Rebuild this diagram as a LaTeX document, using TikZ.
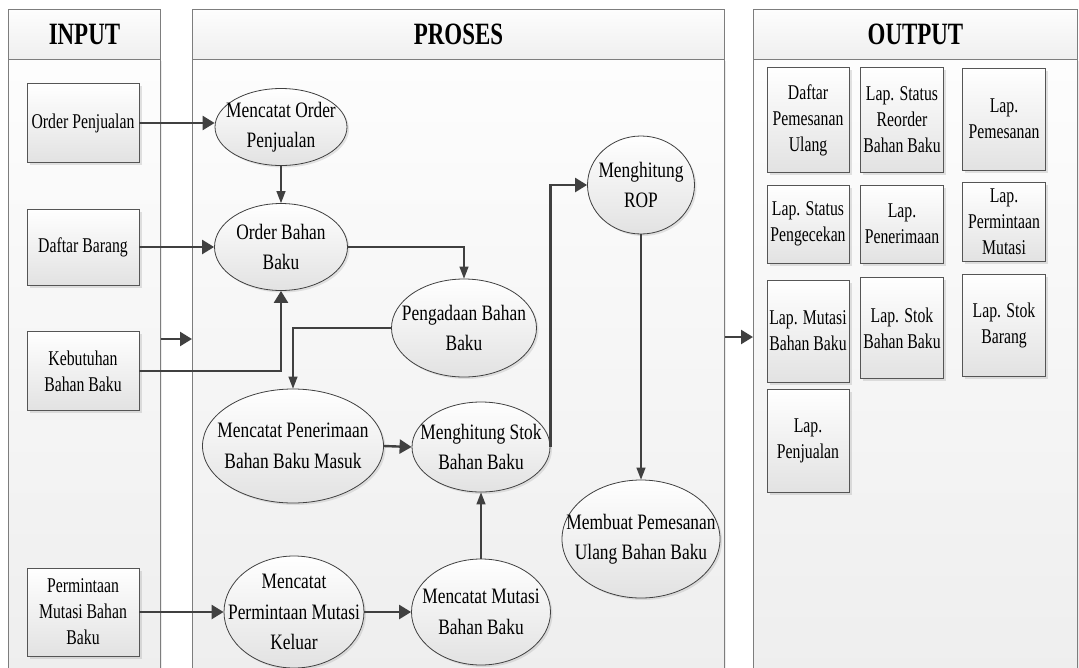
\documentclass[tikz,border=0pt]{standalone}
\usepackage{fontspec}
\setmainfont{Liberation Serif}
\newfontfamily\boxfont[FakeStretch=0.75]{Liberation Serif}
\newfontfamily\procfont[FakeStretch=0.79]{Liberation Serif}
\newfontfamily\headfont[FakeStretch=0.74]{Liberation Serif}
\usetikzlibrary{shapes.geometric,arrows.meta,shadows,calc}
\definecolor{flowline}{RGB}{64,64,64}
\definecolor{boxline}{RGB}{85,85,85}
\definecolor{panelline}{RGB}{125,125,125}
\definecolor{fillTop}{RGB}{255,255,255}
\definecolor{fillBottom}{RGB}{226,226,226}
\definecolor{panelTop}{RGB}{253,253,253}
\definecolor{panelBottom}{RGB}{237,237,237}
\tikzset{
  panelhead/.style={
    rectangle, draw=panelline, line width=0.9pt,
    top color=panelTop, bottom color=panelBottom!90!white,
    minimum height=50, inner sep=0,
    font=\headfont\bfseries\fontsize{31}{33}\selectfont
  },
  panelbody/.style={
    rectangle, draw=panelline, line width=0.9pt,
    top color=panelTop, bottom color=panelBottom,
    minimum height=660, inner sep=0,
    drop shadow={shadow xshift=2pt, shadow yshift=-2pt, opacity=0.15}
  },
  dfdbox/.style={
    rectangle, draw=boxline, line width=0.8pt,
    top color=fillTop, bottom color=fillBottom,
    drop shadow={shadow xshift=2.5pt, shadow yshift=-2.5pt, opacity=0.22},
    inner sep=1pt, align=center,
    font=\boxfont\fontsize{21}{26}\selectfont
  },
  dfdproc/.style={
    ellipse, draw=flowline, line width=0.8pt,
    top color=fillTop, bottom color=fillBottom,
    drop shadow={shadow xshift=2pt, shadow yshift=-2pt, opacity=0.2},
    inner sep=0
  },
  proctext/.style={align=center, inner sep=0, font=\procfont\fontsize{22}{30.5}\selectfont},
  dfdflow/.style={-{Triangle[length=12pt,width=14pt]}, line width=2.4pt, draw=flowline},
  dfdthin/.style={-{Triangle[length=12pt,width=9pt]}, line width=1.2pt, draw=flowline}
}

\begin{document}
\begin{tikzpicture}[x=1pt,y=-1pt]
\clip (0,0) rectangle (1079,667);

% ---- panels ----
\node[panelbody, minimum width=152, anchor=north west] (bdIn) at (8,59) {};
\node[panelhead, minimum width=152, anchor=north west] (hdIn) at (8,9) {INPUT};
\node[panelbody, minimum width=532, anchor=north west] (bdProses) at (192,59) {};
\node[panelhead, minimum width=532, anchor=north west] (hdProses) at (192,9) {PROSES};
\node[panelbody, minimum width=324, anchor=north west] (bdOut) at (753,59) {};
\node[panelhead, minimum width=324, anchor=north west] (hdOut) at (753,9) {OUTPUT};

% ---- input ----
\node[dfdbox, minimum width=112, minimum height=79] (inOrder) at (83,123) {Order Penjualan};
\node[dfdbox, minimum width=112, minimum height=76] (inBarang) at (83,247) {Daftar Barang};
\node[dfdbox, minimum width=112, minimum height=79] (inKebutuhan) at (83,371) {Kebutuhan\\Bahan Baku};
\node[dfdbox, minimum width=112, minimum height=88] (inMutasi) at (83,612) {Permintaan\\Mutasi Bahan\\Baku};

% ---- proses ----
\node[dfdproc, minimum width=132, minimum height=77,
  label={[proctext]center:{Mencatat Order\\Penjualan}}] (pOrder) at (281,127) {};
\node[dfdproc, minimum width=133, minimum height=87,
  label={[proctext]center:{Order Bahan\\Baku}}] (pBahan) at (281,247) {};
\node[dfdproc, minimum width=145, minimum height=98,
  label={[proctext]center:{Pengadaan Bahan\\Baku}}] (pAdaan) at (464,328) {};
\node[dfdproc, minimum width=181, minimum height=114,
  label={[proctext]center:{Mencatat Penerimaan\\Bahan Baku Masuk}}] (pTerima) at (293,446) {};
\node[dfdproc, minimum width=138, minimum height=90,
  label={[proctext]center:{Menghitung Stok\\Bahan Baku}}] (pStok) at (481,447) {};
\node[dfdproc, minimum width=107, minimum height=98,
  label={[proctext]center:{Menghitung\\ROP}}] (pROP) at (641,185) {};
\node[dfdproc, minimum width=158, minimum height=118,
  label={[proctext]center:{Membuat Pemesanan\\Ulang Bahan Baku}}] (pBuat) at (641,539) {};
\node[dfdproc, minimum width=140, minimum height=112,
  label={[proctext]center:{Mencatat\\Permintaan Mutasi\\Keluar}}] (pMintaMutasi) at (294,612) {};
\node[dfdproc, minimum width=139, minimum height=106,
  label={[proctext]center:{Mencatat Mutasi\\Bahan Baku}}] (pMutasi) at (481,612) {};

% ---- output ----
\node[dfdbox, minimum width=82, minimum height=105] (oDaftar) at (808,120) {Daftar\\Pemesanan\\Ulang};
\node[dfdbox, minimum width=83, minimum height=105] (oReorder) at (902,120) {Lap. Status\\Reorder\\Bahan Baku};
\node[dfdbox, minimum width=83, minimum height=102] (oPesan) at (1004,119) {Lap.\\Pemesanan};
\node[dfdbox, minimum width=82, minimum height=78] (oCek) at (808,224) {Lap. Status\\Pengecekan};
\node[dfdbox, minimum width=83, minimum height=78] (oTerima) at (902,224) {Lap.\\Penerimaan};
\node[dfdbox, minimum width=83, minimum height=79] (oMinta) at (1004,222) {Lap.\\Permintaan\\Mutasi};
\node[dfdbox, minimum width=82, minimum height=102] (oMutasi) at (808,331) {Lap. Mutasi\\Bahan Baku};
\node[dfdbox, minimum width=83, minimum height=101] (oStok) at (902,328) {Lap. Stok\\Bahan Baku};
\node[dfdbox, minimum width=83, minimum height=102] (oBarang) at (1004,325) {Lap. Stok\\Barang};
\node[dfdbox, minimum width=82, minimum height=103] (oJual) at (808,441) {Lap.\\Penjualan};

% ---- flows ----
\coordinate (gapIn) at (0,339);
\coordinate (gapOut) at (0,337);
\draw[dfdflow] (bdIn.east |- gapIn) -- (bdProses.west |- gapIn);
\draw[dfdflow] (bdProses.east |- gapOut) -- (bdOut.west |- gapOut);

\draw[dfdflow] (inOrder.east) -- (inOrder.east -| pOrder.west);
\draw[dfdflow] (inBarang.east) -- (pBahan.west);
\draw[dfdflow] (inKebutuhan.east) -| (pBahan.south);
\draw[dfdflow] (inMutasi.east) -- (pMintaMutasi.west);

\draw[dfdthin] (pOrder.south) -- (pBahan.north);
\draw[dfdthin] (pBahan.east) -| (pAdaan.north);
\draw[dfdthin] (pAdaan.west) -| (pTerima.north);
\draw[dfdflow] (pTerima.east) -- (pStok.west);
\draw[dfdflow] (pStok.east) |- (pROP.west);
\draw[dfdthin] (pROP.south) -- (pBuat.north);
\draw[dfdflow] (pMintaMutasi.east) -- (pMutasi.west);
\draw[dfdthin] (pMutasi.north) -- (pStok.south);

\end{tikzpicture}
\end{document}
